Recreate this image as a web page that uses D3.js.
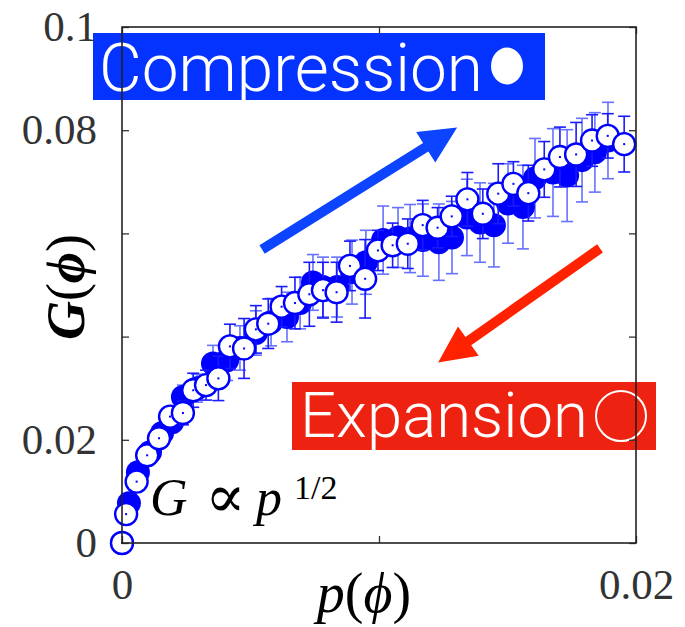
<!DOCTYPE html>
<html><head><meta charset="utf-8">
<script src="https://cdn.jsdelivr.net/npm/d3@7"></script>
<style>html,body{margin:0;padding:0;background:#fff;}svg{display:block;}</style>
</head><body>
<svg id="chart" width="685" height="627"></svg>
<script>
// ---- data ----
const xTicks = [0, 0.01, 0.02];
const xTickLabels = ["0", "", "0.02"];
const yTicks = [0, 0.02, 0.04, 0.06, 0.08, 0.1];
const yTickLabels = ["0", "0.02", "", "", "0.08", "0.1"];

// Expansion (open circles)
const expP = [0, 0.00016, 0.00057, 0.00098, 0.00144, 0.00187, 0.00237, 0.00277, 0.00327, 0.00375,
  0.00420, 0.00475, 0.00521, 0.00569, 0.00621, 0.00673, 0.00729, 0.00782, 0.00835, 0.00887,
  0.00946, 0.00996, 0.01053, 0.01112, 0.01170, 0.01228, 0.01283, 0.01344, 0.01404, 0.01464,
  0.01523, 0.01581, 0.01643, 0.01704, 0.01767, 0.01829, 0.01890, 0.01954];
const expG = [0, 0.0056, 0.0119, 0.0170, 0.0203, 0.0245, 0.0252, 0.0296, 0.0306, 0.0319,
  0.0381, 0.0377, 0.0414, 0.0425, 0.0458, 0.0465, 0.0482, 0.0490, 0.0486, 0.0537,
  0.0512, 0.0567, 0.0577, 0.0580, 0.0616, 0.0611, 0.0633, 0.0666, 0.0638, 0.0677,
  0.0696, 0.0678, 0.0724, 0.0748, 0.0753, 0.0780, 0.0789, 0.0773];
const expErr = [0.0004, 0.0006, 0.0008, 0.0012, 0.0015, 0.0019, 0.0023, 0.0033, 0.0029, 0.0043,
  0.0043, 0.0058, 0.0046, 0.0048, 0.0039, 0.0050, 0.0062, 0.0054, 0.0058, 0.0048,
  0.0076, 0.0039, 0.0043, 0.0048, 0.0048, 0.0039, 0.0039, 0.0052, 0.0048, 0.0058,
  0.0043, 0.0054, 0.0054, 0.0058, 0.0062, 0.0050, 0.0043, 0.0054];

// Compression (filled circles)
const comP = [0, 0.00027, 0.00062, 0.00109, 0.00156, 0.00195, 0.00237, 0.00292, 0.00354, 0.00409,
  0.00459, 0.00521, 0.00580, 0.00642, 0.00693, 0.00743, 0.00782, 0.00837, 0.00895, 0.00949,
  0.01016, 0.01074, 0.01121, 0.01171, 0.01233, 0.01284, 0.01342, 0.01393, 0.01447, 0.01502,
  0.01560, 0.01607, 0.01677, 0.01732, 0.01790, 0.01840, 0.01891];
const comG = [0, 0.0077, 0.0137, 0.0176, 0.0213, 0.0234, 0.0283, 0.0300, 0.0348, 0.0354,
  0.0378, 0.0407, 0.0428, 0.0438, 0.0465, 0.0505, 0.0496, 0.0496, 0.0525, 0.0544,
  0.0587, 0.0592, 0.0590, 0.0587, 0.0583, 0.0592, 0.0631, 0.0621, 0.0616, 0.0658,
  0.0651, 0.0707, 0.0718, 0.0712, 0.0742, 0.0757, 0.0780];
const comErr = [0.0004, 0.0006, 0.0010, 0.0012, 0.0015, 0.0019, 0.0023, 0.0027, 0.0035, 0.0039,
  0.0043, 0.0043, 0.0046, 0.0048, 0.0050, 0.0054, 0.0058, 0.0058, 0.0062, 0.0062,
  0.0066, 0.0058, 0.0066, 0.0070, 0.0074, 0.0070, 0.0074, 0.0077, 0.0081, 0.0077,
  0.0081, 0.0077, 0.0085, 0.0089, 0.0081, 0.0077, 0.0074];

// annotation arrows in data units [p, G]
const blueArrow = [[0.00545, 0.0569], [0.01304, 0.0805]];
const redArrow = [[0.0186, 0.0571], [0.0123, 0.0350]];

// ---- layout ----
const svg = d3.select("#chart");
const L = 122, R = 636, T = 27, B = 543;
const x = d3.scaleLinear().domain([0, 0.02]).range([L, R]);
const y = d3.scaleLinear().domain([0, 0.1]).range([B, T]);
const serif = "'Liberation Serif','DejaVu Serif',serif";
const sans = "Roboto, Lato, 'Open Sans', 'Liberation Sans', sans-serif";

// label boxes
const gLab = svg.append("g");
gLab.append("rect").attr("x", 93).attr("y", 33).attr("width", 452).attr("height", 67).attr("fill", "#0433ff");
gLab.append("text").attr("x", 99).attr("y", 91).attr("fill", "#fff")
  .attr("font-family", sans).attr("font-weight", 300).attr("font-size", 66)
  .attr("textLength", 384).attr("lengthAdjust", "spacingAndGlyphs").text("Compression");
gLab.append("ellipse").attr("cx", 507).attr("cy", 66).attr("rx", 16).attr("ry", 18.5).attr("fill", "#fff");

gLab.append("rect").attr("x", 292).attr("y", 382).attr("width", 364).attr("height", 68).attr("fill", "#ee2211");
gLab.append("text").attr("x", 300).attr("y", 437).attr("fill", "#fff")
  .attr("font-family", sans).attr("font-weight", 300).attr("font-size", 63)
  .attr("textLength", 288).attr("lengthAdjust", "spacingAndGlyphs").text("Expansion");
gLab.append("circle").attr("cx", 621).attr("cy", 416).attr("r", 25).attr("fill", "none")
  .attr("stroke", "#fff").attr("stroke-width", 2);

// arrows
function arrow(pts, color) {
  const [a, b] = pts.map(d => [x(d[0]), y(d[1])]);
  const dx = b[0] - a[0], dy = b[1] - a[1], len = Math.hypot(dx, dy);
  const ux = dx / len, uy = dy / len, nx = -uy, ny = ux;
  const hl = 37, hw = 18, sw = 5;
  const bx = b[0] - ux * hl, by = b[1] - uy * hl;
  const poly = [
    [a[0] + nx * sw, a[1] + ny * sw], [bx + nx * sw, by + ny * sw], [bx + nx * hw, by + ny * hw],
    b, [bx - nx * hw, by - ny * hw], [bx - nx * sw, by - ny * sw], [a[0] - nx * sw, a[1] - ny * sw]];
  svg.append("polygon").attr("points", poly.map(p => p.join(",")).join(" ")).attr("fill", color);
}
arrow(blueArrow, "#0c44ff");
arrow(redArrow, "#ff2200");

// data
const com = comP.map((p, i) => ({p, g: comG[i], e: comErr[i]}));
const exp = expP.map((p, i) => ({p, g: expG[i], e: expErr[i]}));
function errorBars(data, color, op) {
  const g = svg.append("g").attr("stroke", color).attr("stroke-width", 1.6).attr("opacity", op);
  data.forEach(d => {
    const cx = x(d.p), y1 = y(d.g + d.e), y2 = y(d.g - d.e);
    g.append("line").attr("x1", cx).attr("x2", cx).attr("y1", y1).attr("y2", y2);
    g.append("line").attr("x1", cx - 6).attr("x2", cx + 6).attr("y1", y1).attr("y2", y1);
    g.append("line").attr("x1", cx - 6).attr("x2", cx + 6).attr("y1", y2).attr("y2", y2);
  });
}
errorBars(com, "#3344ff", 0.75);
svg.append("g").selectAll("circle").data(com).join("circle")
  .attr("cx", d => x(d.p)).attr("cy", d => y(d.g)).attr("r", 12).attr("fill", "#0000ff");
errorBars(exp, "#1a1aff", 1);
svg.append("g").selectAll("circle").data(exp).join("circle")
  .attr("cx", d => x(d.p)).attr("cy", d => y(d.g)).attr("r", 11)
  .attr("fill", "#fff").attr("stroke", "#0000ff").attr("stroke-width", 2.4);
svg.append("g").selectAll("rect").data(exp).join("rect")
  .attr("x", d => x(d.p) - 1).attr("y", d => y(d.g) - 1).attr("width", 2).attr("height", 2).attr("fill", "#0000ff");

// axes
function styleAxis(g) {
  g.select(".domain").remove();
  g.selectAll(".tick line").attr("stroke", "#333").attr("stroke-width", 1.3);
  g.selectAll(".tick text").attr("fill", "#333").attr("font-family", serif).attr("font-size", 43);
}
svg.append("g").attr("transform", `translate(${L},0)`)
  .call(d3.axisLeft(y).tickValues(yTicks).tickSize(-7).tickPadding(25).tickFormat((d, i) => yTickLabels[i]))
  .call(styleAxis);
svg.append("g").attr("transform", `translate(${R},0)`)
  .call(d3.axisRight(y).tickValues(yTicks).tickSize(-7).tickFormat(""))
  .call(styleAxis);
svg.append("g").attr("transform", `translate(0,${B})`)
  .call(d3.axisBottom(x).tickValues(xTicks).tickSize(-7).tickPadding(25).tickFormat((d, i) => xTickLabels[i]))
  .call(styleAxis);
svg.append("g").attr("transform", `translate(0,${T})`)
  .call(d3.axisTop(x).tickValues(xTicks).tickSize(-7).tickFormat(""))
  .call(styleAxis);

svg.append("rect").attr("x", L).attr("y", T).attr("width", R - L).attr("height", B - T)
  .attr("fill", "none").attr("stroke", "#222").attr("stroke-width", 1.6);

// axis titles
const xt = svg.append("text").attr("x", 364).attr("y", 612).attr("text-anchor", "middle")
  .attr("font-family", serif).attr("font-size", 56).attr("fill", "#000");
xt.append("tspan").attr("font-style", "italic").text("p");
xt.append("tspan").text("(");
xt.append("tspan").attr("font-style", "italic").text("ϕ");
xt.append("tspan").text(")");

const yt = svg.append("text").attr("transform", "translate(84,287) rotate(-90)").attr("text-anchor", "middle")
  .attr("font-family", serif).attr("font-size", 54).attr("font-weight", "bold").attr("fill", "#000");
yt.append("tspan").attr("font-style", "italic").text("G");
yt.append("tspan").attr("font-weight", "normal").text("(");
yt.append("tspan").attr("font-style", "italic").text("ϕ");
yt.append("tspan").attr("font-weight", "normal").text(")");

// G ∝ p^{1/2}
const ann = svg.append("text").attr("y", 515).attr("font-family", serif)
  .attr("font-size", 52).attr("fill", "#000");
ann.append("tspan").attr("x", 150).attr("font-style", "italic").text("G");
ann.append("tspan").attr("x", 205).attr("font-size", 60).attr("dy", 2).text("∝");
ann.append("tspan").attr("x", 256).attr("dy", -2).attr("font-style", "italic").text("p");
ann.append("tspan").attr("x", 294).attr("font-size", 34).attr("dy", -16).text("1/2");
</script>
</body></html>
